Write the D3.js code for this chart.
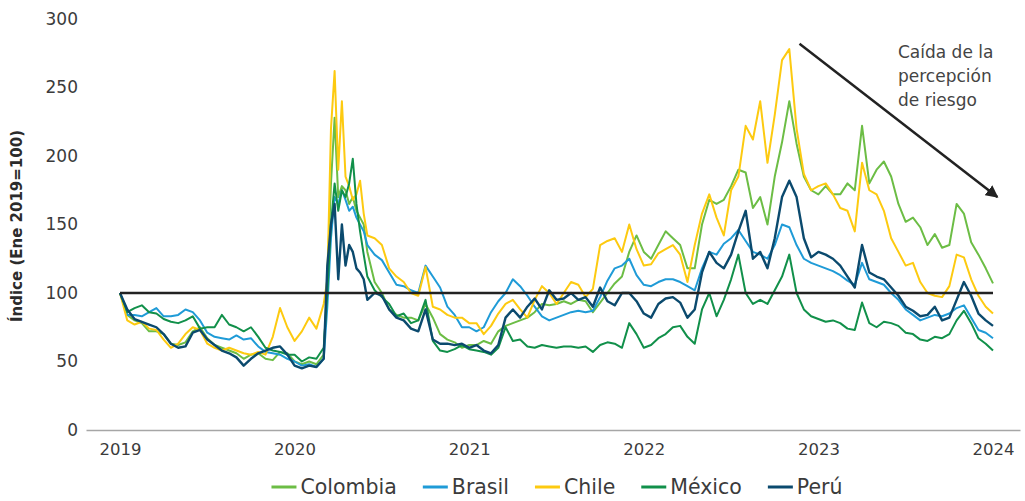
<!DOCTYPE html>
<html>
<head>
<meta charset="utf-8">
<script src="https://cdn.jsdelivr.net/npm/d3@7"></script>
<style>
  html, body { margin: 0; padding: 0; background: #ffffff; }
  svg { display: block; }
</style>
</head>
<body>
<svg id="chart" width="1025" height="501"></svg>
<script>
// ---------- DATA ----------
// months since Jan 2019
const months = [
  0,0.5,1,1.5,2,2.5,3,3.5,4,4.5,5,5.5,6,6.5,7,7.5,8,8.5,9,9.5,10,10.5,11,11.5,
  12,12.5,13,13.5,14,14.25,14.5,14.75,15,15.25,15.5,15.75,16,16.25,16.5,16.75,17,17.5,18,18.5,19,19.5,20,20.5,21,21.5,22,22.5,23,23.5,
  24,24.5,25,25.5,26,26.5,27,27.5,28,28.5,29,29.5,30,30.5,31,31.5,32,32.5,33,33.5,34,34.5,35,35.5,
  36,36.5,37,37.5,38,38.5,39,39.5,40,40.5,41,41.5,42,42.5,43,43.5,44,44.5,45,45.5,46,46.5,47,47.5,
  48,48.5,49,49.5,50,50.5,51,51.5,52,52.5,53,53.5,54,54.5,55,55.5,56,56.5,57,57.5,58,58.5,59,59.5,
  60
];

const colombia = [
  100,84,80,78,72,72,70,63,62,64,72,75,67,62,60,58,56,52,55,56,52,51,57,56,
  50,48,50,48,55,110,180,228,170,178,175,165,170,160,155,150,130,108,100,88,84,82,82,80,92,82,70,66,64,60,
  62,62,65,63,72,76,78,80,82,86,92,91,92,94,92,95,94,86,93,100,107,112,130,142,
  130,125,135,145,140,135,118,118,150,168,165,168,178,190,188,162,170,150,185,210,240,209,185,175,
  172,178,172,172,180,175,222,180,190,196,185,165,152,155,148,135,143,133,135,165,158,137,128,118,
  107
];

const brasil = [
  100,84,84,83,86,89,83,83,84,88,86,80,71,68,67,66,69,66,67,61,57,56,55,52,
  50,47,48,46,52,90,140,170,165,175,168,160,163,155,150,145,135,128,124,115,106,105,102,100,120,112,104,90,84,75,
  75,72,75,86,94,100,110,105,98,90,83,80,82,84,86,87,86,87,97,109,118,120,125,113,
  106,105,108,110,110,108,105,102,118,130,128,136,140,146,138,130,128,125,135,150,148,135,125,122,
  120,118,116,113,109,106,122,110,108,106,100,95,88,84,80,82,84,83,85,89,91,82,73,71,
  67
];

const chile = [
  100,80,77,79,74,73,66,60,63,70,75,73,63,60,58,60,58,56,55,57,55,68,89,75,
  65,72,82,74,92,110,220,262,190,240,185,178,168,172,182,158,142,140,135,118,112,108,100,98,119,90,88,84,82,82,
  78,78,70,76,85,92,95,88,82,95,105,100,92,100,108,106,97,103,135,138,140,130,150,132,
  120,121,129,132,135,128,108,135,158,172,155,142,175,185,222,212,240,195,230,270,278,220,187,175,
  178,180,172,162,160,145,195,175,172,160,140,130,120,122,108,100,98,97,105,128,126,110,98,90,
  85
];

const mexico = [
  100,86,89,91,86,85,81,79,78,80,83,74,75,75,84,77,75,72,75,68,60,58,57,55,
  55,50,53,52,60,100,150,180,160,175,170,180,198,165,145,128,112,102,97,92,83,85,78,80,95,65,58,57,59,62,
  59,58,57,55,60,75,65,66,61,60,62,61,60,61,61,60,61,57,62,64,63,60,78,70,
  60,62,67,70,75,76,68,63,88,100,83,95,110,128,100,92,95,92,102,112,128,100,88,83,
  81,79,80,78,74,73,93,78,75,79,78,76,71,70,66,65,68,67,70,80,87,78,67,63,
  58
];

const peru = [
  100,88,81,79,77,75,70,63,60,61,71,73,66,62,58,56,53,47,52,56,58,60,61,55,
  47,45,47,46,52,120,150,165,110,150,120,135,130,118,115,110,95,100,98,88,82,80,74,72,88,66,63,63,62,63,
  60,62,58,56,62,82,88,82,90,96,88,102,95,96,100,95,97,90,104,94,91,100,100,94,
  85,82,92,96,97,93,82,88,115,130,122,118,128,145,160,125,130,118,140,170,182,170,140,126,
  130,128,125,120,112,104,135,115,112,110,104,98,90,87,83,84,90,80,82,95,108,98,85,80,
  76
];

const seriesNames = ["Colombia", "Brasil", "Chile", "México", "Perú"];
const seriesValues = [colombia, brasil, chile, mexico, peru];
const seriesColors = ["#6cbd45", "#1f9bd7", "#fdca10", "#11904a", "#0b4a6e"];

const yTicks = [0, 50, 100, 150, 200, 250, 300];
const xTicks = [2019, 2020, 2021, 2022, 2023, 2024];
const baseValue = 100;
const yTitle = "Índice (Ene 2019=100)";
const noteLines = ["Caída de la", "percepción", "de riesgo"];
// arrow annotation in data coordinates: [monthsSince2019, value]
const arrowFrom = [46.7, 282];
const arrowTo = [60.3, 170];

// ---------- CHART ----------
const svg = d3.select("#chart");
const FONT = "'DejaVu Sans', sans-serif";

const yearOf = m => 2019 + m / 12;

const x = d3.scaleLinear()
  .domain([2019 - 34 / 174.6, 2024 + 27 / 174.6])
  .range([86, 1020]);
const y = d3.scaleLinear().domain([0, 300]).range([430, 19]);

// x axis
const xAxis = svg.append("g")
  .attr("transform", `translate(0,${y(0)})`)
  .call(d3.axisBottom(x).tickValues(xTicks).tickFormat(d3.format("d")).tickSize(0).tickPadding(13));
xAxis.select(".domain").attr("stroke", "#a6a6a6").attr("stroke-width", 1.5);
xAxis.selectAll("text").attr("font-family", FONT).attr("font-size", 16.5).attr("fill", "#3b3b3b");

// y axis
const yAxis = svg.append("g")
  .attr("transform", `translate(78,0)`)
  .call(d3.axisLeft(y).tickValues(yTicks).tickSize(0).tickPadding(0));
yAxis.select(".domain").remove();
yAxis.selectAll("text").attr("font-family", FONT).attr("font-size", 17).attr("fill", "#3b3b3b");

// y title
svg.append("text")
  .attr("transform", `translate(22,226) rotate(-90)`)
  .attr("text-anchor", "middle")
  .attr("font-family", FONT)
  .attr("font-weight", "bold")
  .attr("font-size", 15)
  .attr("fill", "#2b2b2b")
  .text(yTitle);

// series
const line = d3.line()
  .x((d, i) => x(yearOf(months[i])))
  .y(d => y(d));

seriesValues.forEach((vals, k) => {
  svg.append("path")
    .datum(vals)
    .attr("fill", "none")
    .attr("stroke", seriesColors[k])
    .attr("stroke-width", k === 4 ? 2.4 : 2)
    .attr("stroke-linejoin", "round")
    .attr("d", line);
});

// base 100 line
svg.append("line")
  .attr("x1", x(yearOf(months[0])))
  .attr("x2", x(yearOf(months[months.length - 1])))
  .attr("y1", y(baseValue))
  .attr("y2", y(baseValue))
  .attr("stroke", "#222222")
  .attr("stroke-width", 2.5);

// arrow
svg.append("defs").append("marker")
  .attr("id", "arrowhead")
  .attr("viewBox", "0 0 10 10")
  .attr("refX", 9).attr("refY", 5)
  .attr("markerWidth", 5).attr("markerHeight", 5)
  .attr("orient", "auto")
  .append("path").attr("d", "M0,0 L10,5 L0,10 z").attr("fill", "#222222");

svg.append("line")
  .attr("x1", x(yearOf(arrowFrom[0]))).attr("y1", y(arrowFrom[1]))
  .attr("x2", x(yearOf(arrowTo[0]))).attr("y2", y(arrowTo[1]))
  .attr("stroke", "#222222").attr("stroke-width", 2.5)
  .attr("marker-end", "url(#arrowhead)");

// note text
const note = svg.append("text")
  .attr("font-family", FONT)
  .attr("font-size", 17)
  .attr("fill", "#444444");
noteLines.forEach((t, i) => {
  note.append("tspan").attr("x", 898).attr("y", 58 + i * 24).text(t);
});

// legend
const legend = svg.append("g");
const items = legend.selectAll("g").data(seriesNames).join("g");
items.append("line")
  .attr("x1", 0).attr("x2", 25).attr("y1", 0).attr("y2", 0)
  .attr("stroke", (d, i) => seriesColors[i]).attr("stroke-width", 3);
items.append("text")
  .attr("x", 29).attr("y", 0).attr("dy", "0.35em")
  .attr("font-family", FONT).attr("font-size", 20.5).attr("fill", "#3b3b3b")
  .text(d => d);
const widths = [];
items.each(function () {
  widths.push(29 + this.querySelector("text").getComputedTextLength());
});
const gap = 26;
const total = d3.sum(widths) + gap * (widths.length - 1);
let start = 557 - total / 2;
items.attr("transform", (d, i) => {
  const tx = start;
  start += widths[i] + gap;
  return `translate(${tx},487)`;
});
</script>
</body>
</html>
